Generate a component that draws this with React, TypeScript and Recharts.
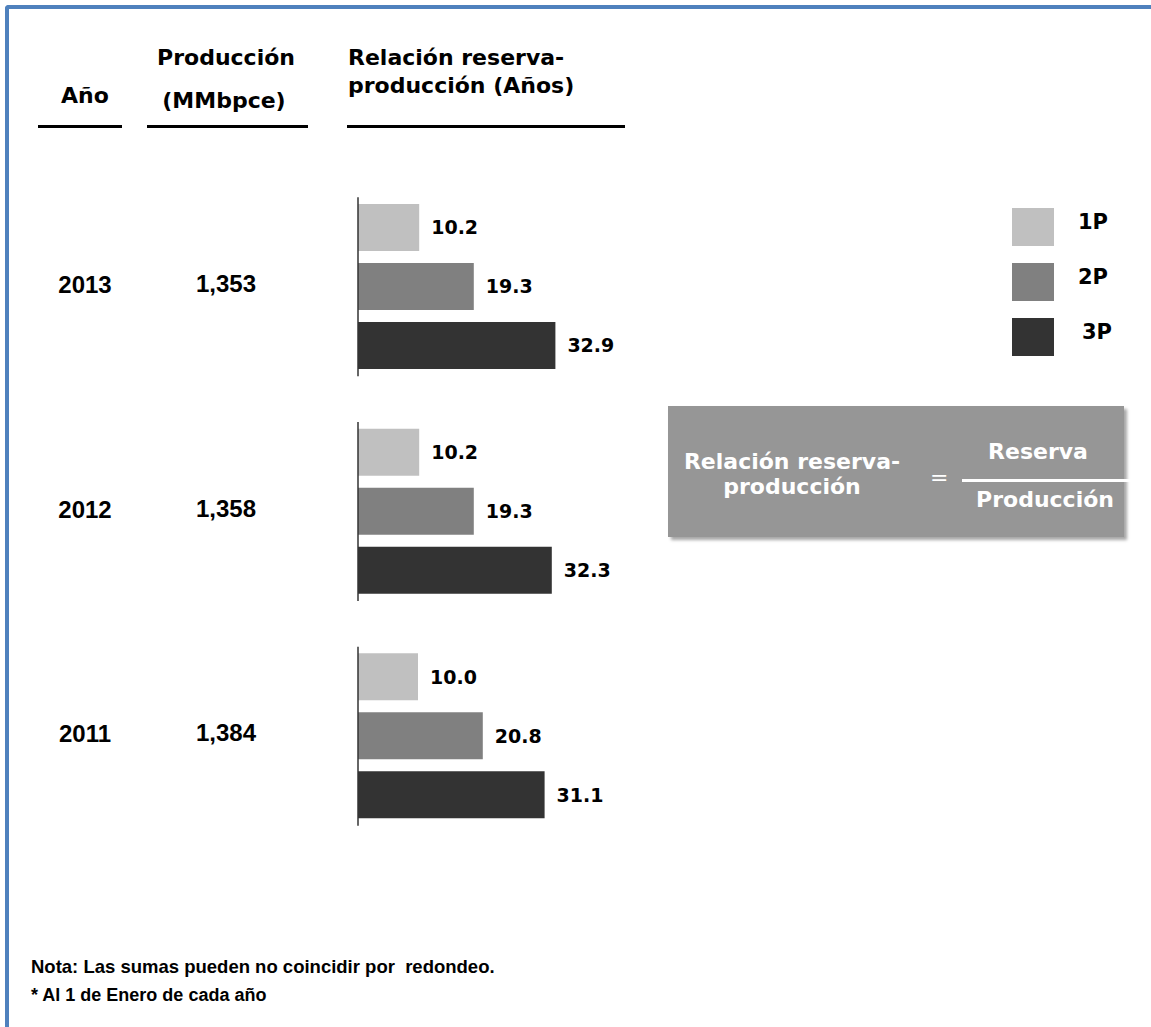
import { BarChart, Bar, XAxis, YAxis, Legend, LabelList } from 'recharts'

const years = ['2013', '2012', '2011']
const production = [1353, 1358, 1384]
const ratio1P = [10.2, 10.2, 10.0]
const ratio2P = [19.3, 19.3, 20.8]
const ratio3P = [32.9, 32.3, 31.1]
const seriesNames = ['1P', '2P', '3P']
const seriesColors = ['#c0c0c0', '#808080', '#333333']

const data = years.map((year, i) => ({
  year,
  production: production[i].toLocaleString('en-US'),
  p1: ratio1P[i],
  p2: ratio2P[i],
  p3: ratio3P[i],
}))

const tahomaLike = '"DejaVu Sans", Verdana, sans-serif'
const arialLike = '"Liberation Sans", Arial, sans-serif'

function YearTick({ x, y, payload, index }: any) {
  return (
    <g>
      <text x={x - 273} y={y - 2} dy="0.36em" textAnchor="middle" fontFamily={arialLike} fontWeight="bold" fontSize={24} fill="#000">
        {payload.value}
      </text>
      <text x={x - 132} y={y - 3} dy="0.36em" textAnchor="middle" fontFamily={arialLike} fontWeight="bold" fontSize={24} fill="#000">
        {data[index]?.production}
      </text>
      <line x1={x} x2={x} y1={y - 89} y2={y + 90} stroke="#333" strokeWidth={1.5} />
    </g>
  )
}

function LegendBoxes({ payload }: any) {
  return (
    <div>
      {(payload || []).map((entry: any, i: number) => (
        <div key={entry.value} style={{ position: 'relative', height: 55 }}>
          <div style={{ position: 'absolute', left: 0, top: 0, width: 42, height: 38, background: entry.color }} />
          <div
            style={{
              position: 'absolute',
              left: 66 + (i === 2 ? 4 : 0),
              top: 1,
              fontFamily: tahomaLike,
              fontWeight: 'bold',
              fontSize: 21,
              lineHeight: '26px',
              color: '#000',
            }}
          >
            {entry.value}
          </div>
        </div>
      ))}
    </div>
  )
}

const labelStyle = { fill: '#000', fontFamily: tahomaLike, fontWeight: 'bold', fontSize: 19 }
const fmt = (v: any) => Number(v).toFixed(1)

function HeaderText({ left, top, width, align, children }: any) {
  return (
    <div
      style={{
        position: 'absolute',
        left,
        top,
        width,
        textAlign: align,
        fontFamily: tahomaLike,
        fontWeight: 'bold',
        fontSize: 22,
        lineHeight: '26px',
        color: '#000',
        whiteSpace: 'nowrap',
      }}
    >
      {children}
    </div>
  )
}

export default function App() {
  return (
    <div style={{ position: 'absolute', left: 0, top: 0, width: 1151, height: 1027, background: '#fff', overflow: 'hidden' }}>
      {/* blue frame, only top and left edges visible */}
      <div
        style={{
          position: 'absolute',
          left: 5,
          top: 5,
          width: 1200,
          height: 1100,
          borderLeft: '4px solid #4f81bd',
          borderTop: '4px solid #4f81bd',
          borderTopLeftRadius: 4,
        }}
      />

      {/* column headers */}
      <HeaderText left={35} top={83} width={100} align="center">Año</HeaderText>
      <HeaderText left={126} top={45} width={200} align="center">Producción</HeaderText>
      <HeaderText left={124} top={88} width={200} align="center">(MMbpce)</HeaderText>
      <HeaderText left={348} top={45} align="left">Relación reserva-</HeaderText>
      <HeaderText left={348} top={73} align="left">producción (Años)</HeaderText>
      <div style={{ position: 'absolute', left: 38, top: 125, width: 84, height: 3, background: '#000' }} />
      <div style={{ position: 'absolute', left: 147, top: 125, width: 161, height: 3, background: '#000' }} />
      <div style={{ position: 'absolute', left: 347, top: 125, width: 278, height: 3, background: '#000' }} />

      <div style={{ position: 'absolute', left: 0, top: 0 }}>
        <BarChart
          width={1151}
          height={900}
          data={data}
          layout="vertical"
          margin={{ top: 174, right: 553, bottom: 52, left: 0 }}
          barSize={47}
          barGap={12}
        >
          <XAxis type="number" domain={[0, 40]} hide />
          <YAxis
            type="category"
            dataKey="year"
            width={358}
            axisLine={false}
            tickLine={false}
            tickSize={0}
            tickMargin={0}
            interval={0}
            tick={<YearTick />}
          />
          <Legend
            layout="vertical"
            align="center"
            verticalAlign="middle"
            wrapperStyle={{ left: 1012, top: 208, width: 130 }}
            content={<LegendBoxes />}
          />
          <Bar dataKey="p1" name={seriesNames[0]} fill={seriesColors[0]} isAnimationActive={false}>
            <LabelList dataKey="p1" position="right" offset={12} formatter={fmt} {...labelStyle} />
          </Bar>
          <Bar dataKey="p2" name={seriesNames[1]} fill={seriesColors[1]} isAnimationActive={false}>
            <LabelList dataKey="p2" position="right" offset={12} formatter={fmt} {...labelStyle} />
          </Bar>
          <Bar dataKey="p3" name={seriesNames[2]} fill={seriesColors[2]} isAnimationActive={false}>
            <LabelList dataKey="p3" position="right" offset={12} formatter={fmt} {...labelStyle} />
          </Bar>
        </BarChart>
      </div>

      {/* formula box */}
      <div
        style={{
          position: 'absolute',
          left: 668,
          top: 406,
          width: 456,
          height: 131,
          background: '#969696',
          boxShadow: '3px 3px 3px rgba(0,0,0,0.35)',
          color: '#fff',
          fontFamily: tahomaLike,
          fontWeight: 'bold',
          fontSize: 22,
        }}
      >
        <div style={{ position: 'absolute', left: 0, top: 43, width: 248, textAlign: 'center', lineHeight: '25px' }}>
          Relación reserva-
          <br />
          producción
        </div>
        <div style={{ position: 'absolute', left: 262, top: 60, fontWeight: 'normal', lineHeight: '24px' }}>=</div>
        <div style={{ position: 'absolute', left: 300, top: 33, width: 140, textAlign: 'center', lineHeight: '26px' }}>Reserva</div>
        <div style={{ position: 'absolute', left: 307, top: 81, width: 140, textAlign: 'center', lineHeight: '26px' }}>Producción</div>
      </div>
      <div style={{ position: 'absolute', left: 962, top: 479, width: 200, height: 3, background: '#fff' }} />

      {/* notes */}
      <div
        style={{
          position: 'absolute',
          left: 31,
          top: 956,
          fontFamily: arialLike,
          fontWeight: 'bold',
          fontSize: 18.5,
          lineHeight: '22px',
          whiteSpace: 'pre',
          color: '#000',
        }}
      >
        {'Nota: Las sumas pueden no coincidir por  redondeo.'}
      </div>
      <div
        style={{
          position: 'absolute',
          left: 31,
          top: 984,
          fontFamily: arialLike,
          fontWeight: 'bold',
          fontSize: 18,
          lineHeight: '22px',
          whiteSpace: 'pre',
          color: '#000',
        }}
      >
        {'* Al 1 de Enero de cada año'}
      </div>
    </div>
  )
}
